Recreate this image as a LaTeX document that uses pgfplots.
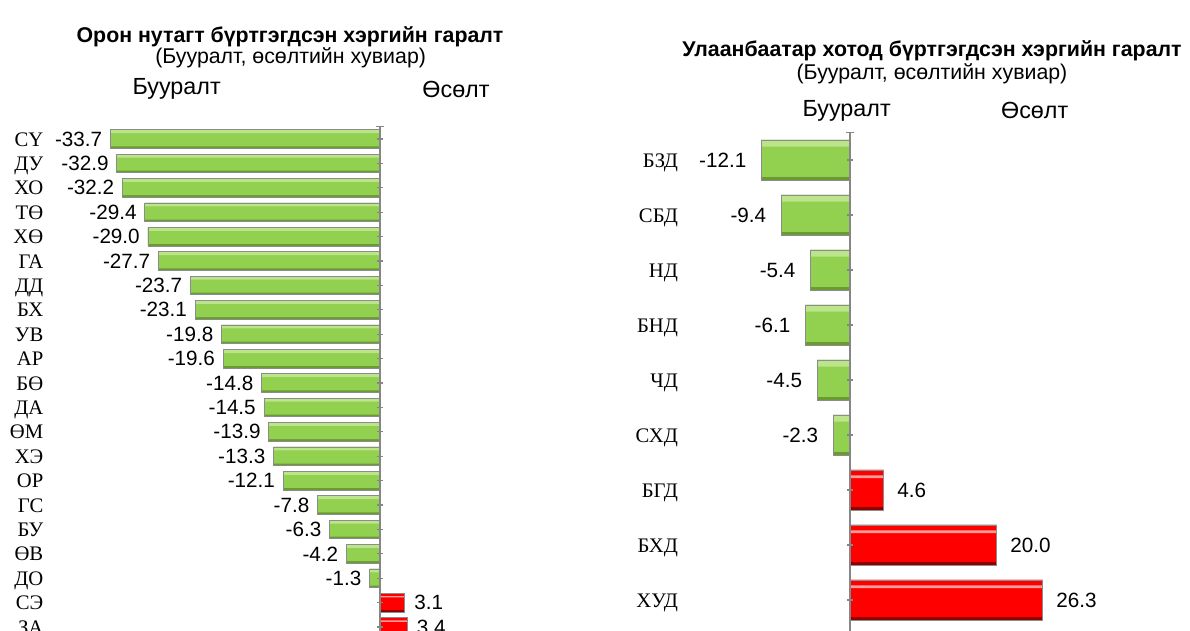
\documentclass[border=0pt]{standalone}
\usepackage{fontspec}
\setmainfont{Liberation Sans}
\newfontfamily\serif{Liberation Serif}
\usepackage{pgfplots}
\usepackage{pgfplotstable}
\pgfplotsset{compat=1.18}
\definecolor{gmain}{HTML}{92D050}
\definecolor{glight}{HTML}{BCE48A}
\definecolor{gdark}{HTML}{6A9B33}
\definecolor{rmain}{HTML}{FF0000}
\definecolor{rlight}{HTML}{FF9C9C}
\definecolor{rdark}{HTML}{8E0000}
\definecolor{axgray}{HTML}{868686}
\definecolor{barline}{HTML}{8C8C8C}

\pgfplotstableread{
x y
-33.7 0
-32.9 1
-32.2 2
-29.4 3
-29.0 4
-27.7 5
-23.7 6
-23.1 7
-19.8 8
-19.6 9
-14.8 10
-14.5 11
-13.9 12
-13.3 13
-12.1 14
-7.8 15
-6.3 16
-4.2 17
-1.3 18
}\leftneg
\pgfplotstableread{
x y
3.1 19
3.4 20
}\leftpos
\pgfplotstableread{
x y
-12.1 0
-9.4 1
-5.4 2
-6.1 3
-4.5 4
-2.3 5
}\rightneg
\pgfplotstableread{
x y
4.6 6
20.0 7
26.3 8
}\rightpos

\pgfplotsset{
  common/.style={
    scale only axis, clip=false,
    y dir=reverse,
    axis line style={draw=none},
    tick style={draw=none},
    xtick=\empty,
    ytick=data,
    yticklabel style={font=\serif\fontsize{15.5}{15.5}\selectfont, anchor=east, text height=10.5pt, text depth=0pt},
  },
  lbl/.style={
    point meta=x,
    nodes near coords={\pgfmathprintnumber[fixed,fixed zerofill,precision=1,assume math mode=true]{\pgfplotspointmeta}},
    nodes near coords align=horizontal,
    every node near coord/.append style={font=\fontsize{15.5}{15.5}\selectfont, inner ysep=0pt, inner xsep=#1},
  },
  layer/.style n args={3}{xbar, draw=none, fill=#1, bar width=#2, bar shift=#3},
}
\begin{document}
\begin{tikzpicture}
% ---------- left chart ----------
\begin{axis}[common,
  anchor=origin, at={(285pt,-104.25pt)},
  x=6pt, y=18.3pt,
  xmin=-42, xmax=8, ymin=-0.5, ymax=20.8,
  ytick={0,...,20},
  yticklabels={СҮ,ДУ,ХО,ТӨ,ХӨ,ГА,ДД,БХ,УВ,АР,БӨ,ДА,ӨМ,ХЭ,ОР,ГС,БУ,ӨВ,ДО,СЭ,ЗА},
  yticklabel style={xshift=3pt},
]
\addplot[layer={gdark}{0.76}{0}, lbl=6pt] table[x=x,y=y] {\leftneg};
\addplot[layer={gmain}{0.68}{-0.04}] table[x=x,y=y] {\leftneg};
\addplot[layer={glight}{0.14}{-0.31}] table[x=x,y=y] {\leftneg};
\addplot[xbar, bar width=0.76, bar shift=0, fill=none, draw=barline, line width=0.5pt] table[x=x,y=y] {\leftneg};
\addplot[layer={rdark}{0.76}{0}, lbl=7pt] table[x=x,y=y] {\leftpos};
\addplot[layer={rmain}{0.68}{-0.04}] table[x=x,y=y] {\leftpos};
\addplot[layer={rlight}{0.06}{-0.24}] table[x=x,y=y] {\leftpos};
\addplot[xbar, bar width=0.76, bar shift=0, fill=none, draw=barline, line width=0.5pt] table[x=x,y=y] {\leftpos};
\draw[axgray, line width=0.8pt] (axis cs:0,-0.5) -- (axis cs:0,21);
\draw[axgray, line width=0.8pt] (axis cs:0,-0.5) ++(-3pt,0pt) -- ++(6pt,0pt);
\pgfplotsinvokeforeach{0,...,20}{\draw[axgray, line width=0.8pt] (axis cs:0,#1) ++(-2.2pt,0pt) -- ++(4.4pt,0pt);}
\end{axis}
% ---------- right chart ----------
\begin{axis}[common,
  anchor=origin, at={(637.5pt,-120pt)},
  x=5.5pt, y=41.25pt,
  xmin=-22, xmax=45, ymin=-0.5, ymax=8.6,
  ytick={0,...,8},
  yticklabels={БЗД,СБД,НД,БНД,ЧД,СХД,БГД,БХД,ХУД},
  yticklabel style={xshift=-4.5pt},
]
\addplot[layer={gdark}{0.73}{0}, lbl=11pt] table[x=x,y=y] {\rightneg};
\addplot[layer={gmain}{0.67}{-0.03}] table[x=x,y=y] {\rightneg};
\addplot[layer={glight}{0.12}{-0.305}] table[x=x,y=y] {\rightneg};
\addplot[xbar, bar width=0.73, bar shift=0, fill=none, draw=barline, line width=0.6pt] table[x=x,y=y] {\rightneg};
\addplot[layer={rdark}{0.73}{0}, lbl=10pt] table[x=x,y=y] {\rightpos};
\addplot[layer={rmain}{0.67}{-0.03}] table[x=x,y=y] {\rightpos};
\addplot[layer={rlight}{0.05}{-0.24}] table[x=x,y=y] {\rightpos};
\addplot[xbar, bar width=0.73, bar shift=0, fill=none, draw=barline, line width=0.6pt] table[x=x,y=y] {\rightpos};
\draw[axgray, line width=0.8pt] (axis cs:0,-0.5) -- (axis cs:0,8.8);
\draw[axgray, line width=0.8pt] (axis cs:0,-0.5) ++(-3pt,0pt) -- ++(6pt,0pt);
\pgfplotsinvokeforeach{0,...,8}{\draw[axgray, line width=0.8pt] (axis cs:0,#1) ++(-2.2pt,0pt) -- ++(4.4pt,0pt);}
\end{axis}
% ---------- titles ----------
\node[font=\bfseries\fontsize{16}{16}\selectfont] at (217.5pt,-27.75pt) {Орон нутагт бүртгэгдсэн хэргийн гаралт};
\node[font=\fontsize{16}{16}\selectfont] at (218pt,-43.5pt) {(Бууралт, өсөлтийн хувиар)};
\node[font=\fontsize{17.5}{17.5}\selectfont] at (132.5pt,-67pt) {Бууралт};
\node[font=\fontsize{17.5}{17.5}\selectfont] at (342pt,-67pt) {Өсөлт};
\node[font=\bfseries\fontsize{16}{16}\selectfont] at (699pt,-38pt) {Улаанбаатар хотод бүртгэгдсэн хэргийн гаралт};
\node[font=\fontsize{16}{16}\selectfont] at (699pt,-55pt) {(Бууралт, өсөлтийн хувиар)};
\node[font=\fontsize{17.5}{17.5}\selectfont] at (635pt,-83pt) {Бууралт};
\node[font=\fontsize{17.5}{17.5}\selectfont] at (776pt,-83pt) {Өсөлт};
\pgfresetboundingbox
\path[use as bounding box] (0,0) rectangle (892.5pt,-473.25pt);
\end{tikzpicture}
\end{document}
